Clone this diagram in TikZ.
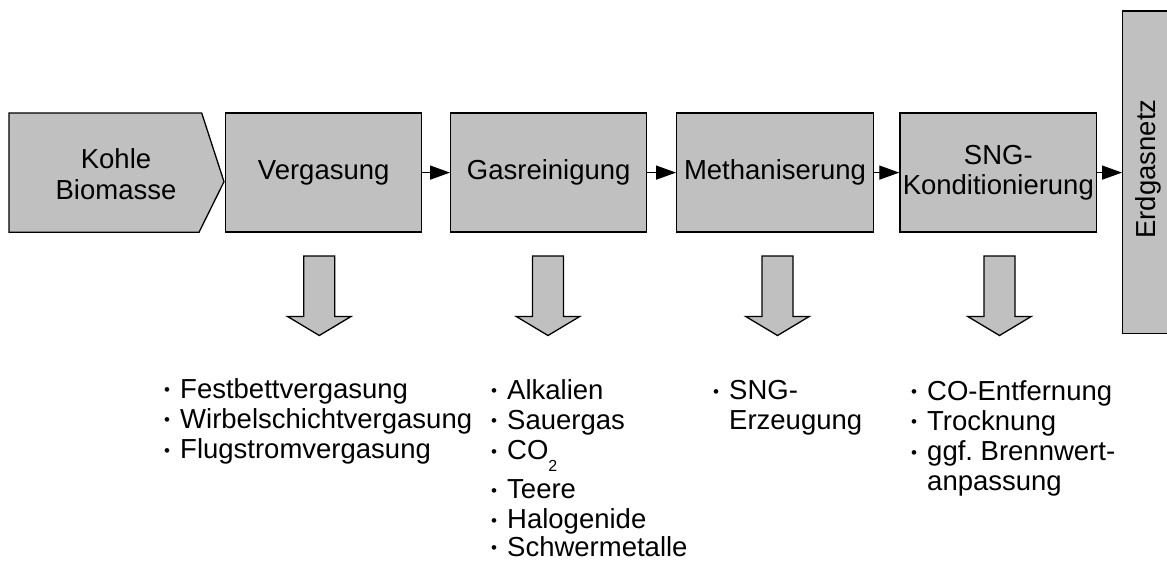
\documentclass[tikz,border=0pt]{standalone}
\usepackage{fontspec}
\setmainfont{Liberation Sans}
\usetikzlibrary{arrows.meta}
\definecolor{boxgray}{RGB}{192,192,192}
\newcommand{\bul}{\makebox[16pt][l]{\raisebox{2.5pt}{\fontsize{17}{17}\selectfont •}}}
\newcommand{\nobul}{\hspace*{16pt}}
\frenchspacing
\begin{document}
\begin{tikzpicture}[x=1pt,y=-1pt,
  every node/.style={font=\fontsize{27.5}{30.5}\selectfont, inner sep=0pt},
  box/.style={draw=black, line width=1.3pt, fill=boxgray, rectangle, minimum height=119pt, align=center},
  conn/.style={line width=1.3pt, -{Triangle[length=20pt,width=14pt]}},
  shapeline/.style={draw=black, line width=1.3pt, fill=boxgray, line join=miter},
  item/.style={anchor=base west},
  blockdown/.pic={\path[shapeline] (-15.5,0) -- (15.5,0) -- (15.5,60.5) -- (31.7,60.5) -- (0,79.5) -- (-31.7,60.5) -- (-15.5,60.5) -- cycle;}
]
\useasboundingbox (0,0) rectangle (1167,560);
\clip (0,0) rectangle (1167,560);
\fill[white] (0,0) rectangle (1167,560);

% source pentagon
\path[shapeline] (9,113) -- (201.7,113) -- (224,181.7) -- (199,232.3) -- (9,232.3) -- cycle;
\node[align=center] (kb) at (116,174) {Kohle\\Biomasse};

% process boxes
\node[box, minimum width=196pt] (v) at (323.7,172.6) {Vergasung};
\node[box, minimum width=196pt] (g) at (548.7,172.6) {Gasreinigung};
\node[box, minimum width=196.6pt] (m) at (775,172.6) {Methaniserung};
\node[box, minimum width=196.7pt] (s) at (998.3,172.6) {SNG-\\Konditionierung};

% Erdgasnetz
\node[draw=black, line width=1.3pt, fill=boxgray, minimum width=80pt, minimum height=322.3pt] (erd) at (1162.7,172.2) {};
\node[rotate=90] (erdt) at (1148.5,169) {Erdgasnetz};

% connectors
\draw[conn] (v.east) -- (g.west);
\draw[conn] (g.east) -- (m.west);
\draw[conn] (m.east) -- (s.west);
\draw[conn] (s.east) -- (s.east -| erd.west);

% down arrows
\pic at (319.3,256) {blockdown};
\pic at (548,256) {blockdown};
\pic at (777.5,256) {blockdown};
\pic at (999.5,256) {blockdown};

% list 1
\node[item] (a1) at (164,398) {\bul Festbettvergasung};
\node[item] (a2) at (164,428.3) {\bul Wirbelschichtvergasung};
\node[item] (a3) at (164,458.6) {\bul Flugstromvergasung};

% list 2
\node[item] (b1) at (491,399) {\bul Alkalien};
\node[item] (b2) at (491,429.3) {\bul Sauergas};
\node[item] (b3) at (491,459.6) {\bul CO\raisebox{-12pt}{\fontsize{16}{16}\selectfont 2}};
\node[item] (b4) at (491,498.7) {\bul Teere};
\node[item] (b5) at (491,528.5) {\bul Halogenide};
\node[item] (b6) at (491,556) {\bul Schwermetalle};

% list 3
\node[item] (c1) at (713,399.5) {\bul SNG-};
\node[item] (c2) at (713,429.8) {\nobul Erzeugung};

% list 4
\node[item] (d1) at (911,400) {\bul CO-Entfernung};
\node[item] (d2) at (911,430.3) {\bul Trocknung};
\node[item] (d3) at (911,460.6) {\bul ggf. Brennwert-};
\node[item] (d4) at (911,490.9) {\nobul anpassung};
\end{tikzpicture}
\end{document}
